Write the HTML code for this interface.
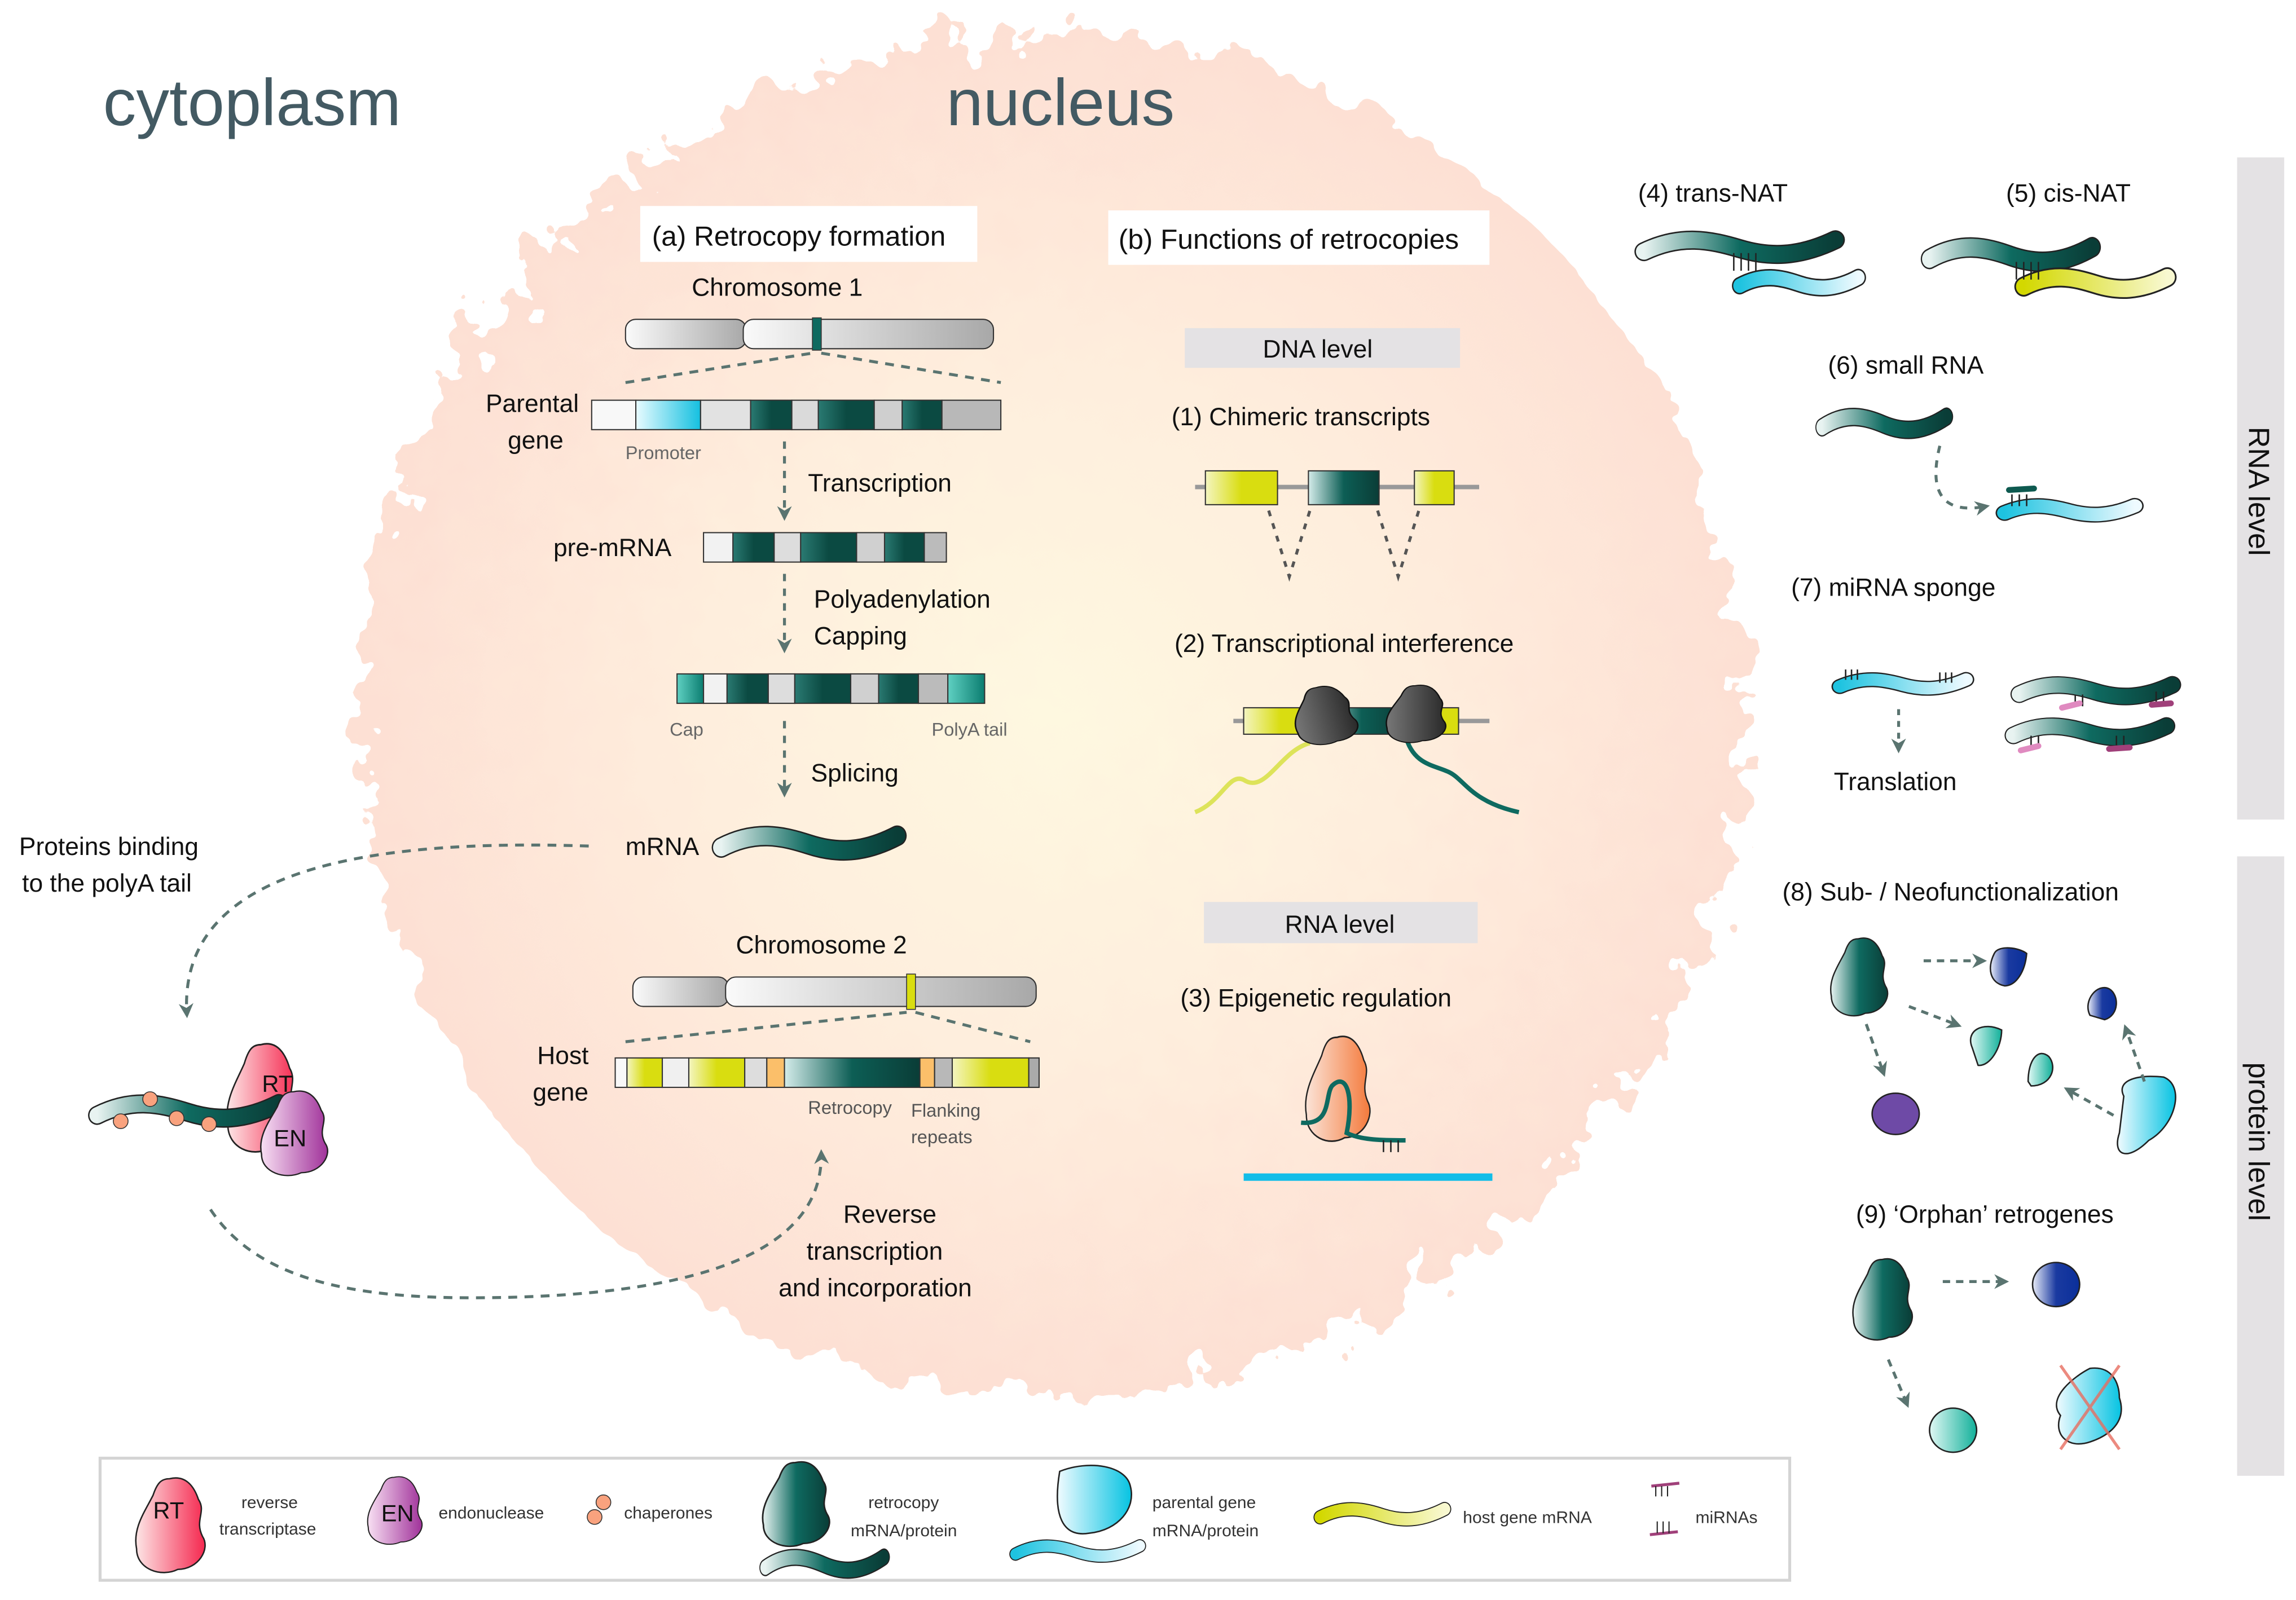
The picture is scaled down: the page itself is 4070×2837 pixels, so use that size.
<!DOCTYPE html>
<html><head><meta charset="utf-8"><style>
html,body{margin:0;padding:0;background:#fff;}
svg{display:block;}
text{font-family:"Liberation Sans Narrow","Liberation Sans",sans-serif;fill:#111;}
</style></head><body>
<svg width="4070" height="2837" viewBox="0 0 1560 1087.4" preserveAspectRatio="none" xmlns="http://www.w3.org/2000/svg">
<defs>
<radialGradient id="nuc" cx="0.5" cy="0.5" r="0.5"><stop offset="0" stop-color="#fef8e0"/><stop offset="0.5" stop-color="#feeedd"/><stop offset="1" stop-color="#fde0d4"/></radialGradient>
<filter id="rough" x="-10%" y="-10%" width="120%" height="120%"><feTurbulence type="fractalNoise" baseFrequency="0.04" numOctaves="3" seed="4"/><feDisplacementMap in="SourceGraphic" scale="60"/></filter>
<linearGradient id="teal" x1="0" x2="1"><stop offset="0" stop-color="#e8f3f1"/><stop offset="0.5" stop-color="#0e6a60"/><stop offset="1" stop-color="#0a3d37"/></linearGradient>
<linearGradient id="cyan" x1="0" x2="1"><stop offset="0" stop-color="#1ec3e0"/><stop offset="1" stop-color="#eefaff"/></linearGradient>
<linearGradient id="cyanP" x1="0" x2="1"><stop offset="0" stop-color="#f0fbff"/><stop offset="1" stop-color="#06c3e2"/></linearGradient>
<linearGradient id="yel" x1="0" x2="1"><stop offset="0" stop-color="#d3d800"/><stop offset="1" stop-color="#f8f8d0"/></linearGradient>
<linearGradient id="yelB" x1="0" x2="1"><stop offset="0" stop-color="#f4f5c0"/><stop offset="0.5" stop-color="#d9dd10"/><stop offset="1" stop-color="#d9dd10"/></linearGradient>
<linearGradient id="gray" x1="0" x2="1"><stop offset="0" stop-color="#fafafa"/><stop offset="1" stop-color="#a8a8a8"/></linearGradient>
<linearGradient id="seg" x1="0" x2="1"><stop offset="0" stop-color="#2a7a72"/><stop offset="0.5" stop-color="#0b4a42"/><stop offset="1" stop-color="#0b4a42"/></linearGradient>
<linearGradient id="segT" x1="0" x2="1"><stop offset="0" stop-color="#d4ecea"/><stop offset="0.5" stop-color="#0d5e55"/><stop offset="1" stop-color="#0a3d37"/></linearGradient>
<linearGradient id="cyanS" x1="0" x2="1"><stop offset="0" stop-color="#e8fbff"/><stop offset="1" stop-color="#14c0e0"/></linearGradient>
<linearGradient id="tcap" x1="0" x2="1"><stop offset="0" stop-color="#5fd0c2"/><stop offset="1" stop-color="#0b7d70"/></linearGradient>
<linearGradient id="red" x1="0" x2="1"><stop offset="0" stop-color="#fde6e6"/><stop offset="1" stop-color="#f5284f"/></linearGradient>
<linearGradient id="pur" x1="0" x2="1"><stop offset="0" stop-color="#f8e0f3"/><stop offset="1" stop-color="#a0329a"/></linearGradient>
<linearGradient id="blue" x1="0" x2="1"><stop offset="0" stop-color="#e8ecf8"/><stop offset="0.5" stop-color="#1a3aa0"/><stop offset="1" stop-color="#0a2f9a"/></linearGradient>
<linearGradient id="green" x1="0" x2="1"><stop offset="0" stop-color="#e0f8f4"/><stop offset="1" stop-color="#12b09a"/></linearGradient>
<linearGradient id="orng" x1="0" x2="1"><stop offset="0" stop-color="#fbe4d8"/><stop offset="1" stop-color="#f47a3c"/></linearGradient>
<linearGradient id="dgray" x1="0" x2="1"><stop offset="0" stop-color="#777"/><stop offset="1" stop-color="#2a2a2a"/></linearGradient>
<marker id="ah" viewBox="0 0 10 10" refX="8" refY="5" markerWidth="5" markerHeight="5" orient="auto"><path d="M0,0 L10,5 L0,10 L3,5 Z" fill="#5a7470"/></marker>
<path id="worm" d="M0,6 C25,-6 45,-2 65,4 S105,10 130,-2"/>
<path id="prot" d="M18,0 C26,-2 30,4 32,10 C36,16 30,20 34,28 C38,34 32,44 22,44 C14,48 2,44 2,34 C0,24 6,16 10,8 C12,2 14,0 18,0 Z"/>
</defs>

<ellipse cx="715" cy="485" rx="470" ry="462" fill="url(#nuc)" filter="url(#rough)"/>

<text x="70" y="85" font-size="45" style="fill:#435a63">cytoplasm</text>
<text x="643" y="85" font-size="45" style="fill:#435a63">nucleus</text>

<rect x="1520" y="107" width="32" height="450" fill="#e4e2e4"/>
<rect x="1520" y="582" width="32" height="421" fill="#e4e2e4"/>
<text transform="translate(1528,290) rotate(90)" font-size="20">RNA level</text>
<text transform="translate(1528,722) rotate(90)" font-size="20">protein level</text>

<rect x="435" y="140" width="229" height="38" fill="#fff"/>
<text x="443" y="167" font-size="19">(a) Retrocopy formation</text>
<text x="470" y="201" font-size="17">Chromosome 1</text>
<rect x="425" y="217" width="82" height="20" rx="7" fill="url(#gray)" stroke="#333" stroke-width="0.8"/>
<rect x="505" y="217" width="170" height="20" rx="7" fill="url(#gray)" stroke="#333" stroke-width="0.8"/>
<rect x="552" y="216" width="6" height="22" fill="#0e6a60" stroke="#333" stroke-width="0.6"/>
<g stroke="#5a7470" stroke-width="2" stroke-dasharray="6 5" fill="none"><path d="M425,260 L552,240"/><path d="M558,240 L680,260"/></g>
<text x="330" y="280" font-size="17">Parental</text><text x="345" y="305" font-size="17">gene</text>
<g stroke="#333" stroke-width="0.8">
<rect x="402" y="272" width="30" height="20" fill="#f8f8f8"/>
<rect x="432" y="272" width="44" height="20" fill="url(#cyanS)"/>
<rect x="476" y="272" width="34" height="20" fill="#e2e2e2"/>
<rect x="510" y="272" width="28" height="20" fill="url(#seg)"/>
<rect x="538" y="272" width="18" height="20" fill="#dadada"/>
<rect x="556" y="272" width="38" height="20" fill="url(#seg)"/>
<rect x="594" y="272" width="19" height="20" fill="#cfcfcf"/>
<rect x="613" y="272" width="27" height="20" fill="url(#seg)"/>
<rect x="640" y="272" width="40" height="20" fill="#b8b8b8"/>
</g>
<text x="425" y="312" font-size="12.5" style="fill:#666">Promoter</text>
<g stroke="#5a7470" stroke-width="2" stroke-dasharray="5 5" fill="none" marker-end="url(#ah)">
<path d="M533,300 L533,352"/><path d="M533,390 L533,442"/><path d="M533,490 L533,540"/>
</g>
<text x="549" y="334" font-size="17">Transcription</text>
<text x="376" y="378" font-size="17">pre-mRNA</text>
<g stroke="#333" stroke-width="0.8">
<rect x="478" y="362" width="20" height="20" fill="#f2f2f2"/>
<rect x="498" y="362" width="28" height="20" fill="url(#seg)"/>
<rect x="526" y="362" width="18" height="20" fill="#ddd"/>
<rect x="544" y="362" width="38" height="20" fill="url(#seg)"/>
<rect x="582" y="362" width="19" height="20" fill="#d0d0d0"/>
<rect x="601" y="362" width="27" height="20" fill="url(#seg)"/>
<rect x="628" y="362" width="15" height="20" fill="#bbb"/>
</g>
<text x="553" y="413" font-size="17">Polyadenylation</text><text x="553" y="438" font-size="17">Capping</text>
<g stroke="#333" stroke-width="0.8">
<rect x="460" y="458" width="18" height="20" fill="url(#tcap)"/>
<rect x="478" y="458" width="16" height="20" fill="#f2f2f2"/>
<rect x="494" y="458" width="28" height="20" fill="url(#seg)"/>
<rect x="522" y="458" width="18" height="20" fill="#ddd"/>
<rect x="540" y="458" width="38" height="20" fill="url(#seg)"/>
<rect x="578" y="458" width="19" height="20" fill="#d0d0d0"/>
<rect x="597" y="458" width="27" height="20" fill="url(#seg)"/>
<rect x="624" y="458" width="20" height="20" fill="#bbb"/>
<rect x="644" y="458" width="25" height="20" fill="url(#tcap)"/>
</g>
<text x="455" y="500" font-size="12.5" style="fill:#666">Cap</text>
<text x="633" y="500" font-size="12.5" style="fill:#666">PolyA tail</text>
<text x="551" y="531" font-size="17">Splicing</text>
<text x="425" y="581" font-size="17">mRNA</text>
<g transform="translate(490,570) scale(0.92,1)"><use href="#worm" stroke="#222" stroke-width="14" fill="none" stroke-linecap="round"/><use href="#worm" stroke="url(#teal)" stroke-width="12" fill="none" stroke-linecap="round"/></g>

<text x="500" y="648" font-size="17">Chromosome 2</text>
<rect x="430" y="664" width="65" height="20" rx="7" fill="url(#gray)" stroke="#333" stroke-width="0.8"/>
<rect x="493" y="664" width="211" height="20" rx="7" fill="url(#gray)" stroke="#333" stroke-width="0.8"/>
<rect x="616" y="662" width="6" height="24" fill="#d9dd10" stroke="#333" stroke-width="0.6"/>
<g stroke="#5a7470" stroke-width="2" stroke-dasharray="6 5" fill="none"><path d="M425,708 L616,688"/><path d="M622,688 L700,708"/></g>
<text x="365" y="723" font-size="17">Host</text><text x="362" y="748" font-size="17">gene</text>
<g stroke="#333" stroke-width="0.8">
<rect x="418" y="719" width="8" height="20" fill="#f8f8f8"/>
<rect x="426" y="719" width="24" height="20" fill="url(#yelB)"/>
<rect x="450" y="719" width="18" height="20" fill="#f0f0f0"/>
<rect x="468" y="719" width="38" height="20" fill="url(#yelB)"/>
<rect x="506" y="719" width="15" height="20" fill="#ddd"/>
<rect x="521" y="719" width="12" height="20" fill="#fbbf6a"/>
<rect x="533" y="719" width="92" height="20" fill="url(#segT)"/>
<rect x="625" y="719" width="10" height="20" fill="#fbbf6a"/>
<rect x="635" y="719" width="12" height="20" fill="#b8b8b8"/>
<rect x="647" y="719" width="52" height="20" fill="url(#yelB)"/>
<rect x="699" y="719" width="7" height="20" fill="#aaa"/>
</g>
<text x="549" y="757" font-size="12.5" style="fill:#555">Retrocopy</text>
<text x="619" y="759" font-size="12.5" style="fill:#555">Flanking</text><text x="619" y="777" font-size="12.5" style="fill:#555">repeats</text>
<text x="573" y="831" font-size="17">Reverse</text><text x="548" y="856" font-size="17">transcription</text><text x="529" y="881" font-size="17">and incorporation</text>

<text x="13" y="581" font-size="17">Proteins binding</text><text x="15" y="606" font-size="17">to the polyA tail</text>
<path d="M400,575 C250,570 120,590 127,690" stroke="#5a7470" stroke-width="2" stroke-dasharray="6 5" fill="none" marker-end="url(#ah)"/>
<path d="M143,822 C175,870 240,882 320,882 C450,882 560,860 558,783" stroke="#5a7470" stroke-width="2" stroke-dasharray="6 5" fill="none" marker-end="url(#ah)"/>
<use href="#prot" transform="translate(152,710) scale(1.4,1.6)" fill="url(#red)" stroke="#222" stroke-width="0.7"/>
<text x="178" y="742" font-size="16">RT</text>
<g transform="translate(66,752)"><use href="#worm" transform="scale(0.95,1)" stroke="#222" stroke-width="13" fill="none" stroke-linecap="round"/><use href="#worm" transform="scale(0.95,1)" stroke="url(#teal)" stroke-width="11" fill="none" stroke-linecap="round"/></g>
<use href="#prot" transform="translate(175,742) scale(1.35,1.25)" fill="url(#pur)" stroke="#222" stroke-width="0.7"/>
<text x="186" y="779" font-size="16">EN</text>
<g fill="#f9a27e" stroke="#333" stroke-width="0.6"><circle cx="82" cy="762" r="5"/><circle cx="102" cy="747" r="5"/><circle cx="120" cy="760" r="5"/><circle cx="142" cy="764" r="5"/></g>

<rect x="753" y="143" width="259" height="37" fill="#fff"/>
<text x="760" y="169" font-size="19">(b) Functions of retrocopies</text>
<rect x="805" y="223" width="187" height="27" fill="#e4e2e4"/>
<text x="858" y="243" font-size="17">DNA level</text>
<text x="796" y="289" font-size="17">(1) Chimeric transcripts</text>
<line x1="812" y1="331" x2="1005" y2="331" stroke="#999" stroke-width="3"/>
<rect x="819" y="320" width="49" height="23" fill="url(#yelB)" stroke="#333" stroke-width="0.8"/>
<rect x="889" y="320" width="48" height="23" fill="url(#segT)" stroke="#333" stroke-width="0.8"/>
<rect x="961" y="320" width="27" height="23" fill="url(#yelB)" stroke="#333" stroke-width="0.8"/>
<g stroke="#555" stroke-width="2" stroke-dasharray="4 5" fill="none"><path d="M862,347 L876,392 L890,347"/><path d="M936,347 L950,392 L964,347"/></g>
<text x="798" y="443" font-size="17">(2) Transcriptional interference</text>
<line x1="838" y1="490" x2="1012" y2="490" stroke="#999" stroke-width="3"/>
<rect x="845" y="481" width="50" height="18" fill="url(#yelB)" stroke="#333" stroke-width="0.8"/>
<rect x="895" y="481" width="60" height="18" fill="url(#segT)" stroke="#333" stroke-width="0.8"/>
<rect x="955" y="481" width="36" height="18" fill="#d9dd10" stroke="#333" stroke-width="0.8"/>
<path d="M890,505 C870,510 860,540 845,530 C835,525 830,545 812,552" stroke="#dde35a" stroke-width="3" fill="none"/>
<path d="M955,500 C960,520 975,520 985,525 C995,530 1000,545 1032,552" stroke="#0e6a60" stroke-width="3" fill="none"/>
<use href="#prot" transform="translate(872,470) scale(1.25,0.85) rotate(-10)" fill="url(#dgray)" stroke="#111" stroke-width="0.8"/>
<use href="#prot" transform="translate(940,466) scale(1.2,0.85)" fill="url(#dgray)" stroke="#111" stroke-width="0.8"/>
<rect x="818" y="613" width="186" height="28" fill="#e4e2e4"/>
<text x="873" y="634" font-size="17">RNA level</text>
<text x="802" y="684" font-size="17">(3) Epigenetic regulation</text>
<use href="#prot" transform="translate(885,705) scale(1.3,1.55)" fill="url(#orng)" stroke="#222" stroke-width="0.7"/>
<path d="M884,763 C905,765 900,745 905,738 C915,728 920,745 915,770 C925,775 940,775 955,775" stroke="#0e6a60" stroke-width="3" fill="none"/>
<g stroke="#222" stroke-width="1"><line x1="940" y1="775" x2="940" y2="783"/><line x1="945" y1="775" x2="945" y2="783"/><line x1="950" y1="775" x2="950" y2="783"/></g>
<line x1="845" y1="800" x2="1014" y2="800" stroke="#12bde8" stroke-width="5"/>

<text x="1113" y="137" font-size="17">(4) trans-NAT</text>
<text x="1363" y="137" font-size="17">(5) cis-NAT</text>
<g fill="none" stroke-linecap="round">
<g transform="translate(1117,165)"><use href="#worm" stroke="#222" stroke-width="13"/><use href="#worm" stroke="url(#teal)" stroke-width="11"/></g>
<g transform="translate(1182,190) scale(0.62,0.7)"><use href="#worm" stroke="#222" stroke-width="17"/><use href="#worm" stroke="url(#cyan)" stroke-width="14"/></g>
<g transform="translate(1311,170) scale(0.85,1)"><use href="#worm" stroke="#222" stroke-width="14"/><use href="#worm" stroke="url(#teal)" stroke-width="12"/></g>
<g transform="translate(1375,190) scale(0.75,0.8)"><use href="#worm" stroke="#222" stroke-width="17"/><use href="#worm" stroke="url(#yel)" stroke-width="14"/></g>
<g transform="translate(1238,285) scale(0.65,0.9)"><use href="#worm" stroke="#222" stroke-width="14"/><use href="#worm" stroke="url(#teal)" stroke-width="12"/></g>
<g transform="translate(1362,345) scale(0.68,0.6)"><use href="#worm" stroke="#222" stroke-width="18"/><use href="#worm" stroke="url(#cyan)" stroke-width="15"/></g>
<g transform="translate(1250,463) scale(0.66,0.6)"><use href="#worm" stroke="#222" stroke-width="17"/><use href="#worm" stroke="url(#cyan)" stroke-width="14"/></g>
<g transform="translate(1372,467) scale(0.8,0.8)"><use href="#worm" stroke="#222" stroke-width="15"/><use href="#worm" stroke="url(#teal)" stroke-width="13"/></g>
<g transform="translate(1368,495) scale(0.8,0.8)"><use href="#worm" stroke="#222" stroke-width="15"/><use href="#worm" stroke="url(#teal)" stroke-width="13"/></g>
</g>
<g stroke="#222" stroke-width="1">
<line x1="1178" y1="172" x2="1178" y2="184"/><line x1="1183" y1="172" x2="1183" y2="184"/><line x1="1188" y1="172" x2="1188" y2="184"/><line x1="1193" y1="172" x2="1193" y2="184"/>
<line x1="1370" y1="178" x2="1370" y2="190"/><line x1="1375" y1="178" x2="1375" y2="190"/><line x1="1380" y1="178" x2="1380" y2="190"/><line x1="1385" y1="178" x2="1385" y2="190"/>
<line x1="1367" y1="336" x2="1367" y2="344"/><line x1="1372" y1="336" x2="1372" y2="344"/><line x1="1377" y1="336" x2="1377" y2="344"/>
<line x1="1254" y1="455" x2="1254" y2="462"/><line x1="1258" y1="455" x2="1258" y2="462"/><line x1="1262" y1="455" x2="1262" y2="462"/>
<line x1="1318" y1="457" x2="1318" y2="464"/><line x1="1322" y1="457" x2="1322" y2="464"/><line x1="1326" y1="457" x2="1326" y2="464"/>
<line x1="1410" y1="472" x2="1410" y2="480"/><line x1="1415" y1="472" x2="1415" y2="480"/><line x1="1465" y1="470" x2="1465" y2="478"/><line x1="1470" y1="470" x2="1470" y2="478"/>
<line x1="1380" y1="500" x2="1380" y2="508"/><line x1="1385" y1="500" x2="1385" y2="508"/><line x1="1438" y1="500" x2="1438" y2="508"/><line x1="1443" y1="500" x2="1443" y2="508"/>
</g>
<g stroke-linecap="round" stroke-width="4"><line x1="1365" y1="333" x2="1382" y2="332" stroke="#0e5a50"/>
<line x1="1401" y1="481" x2="1413" y2="478" stroke="#e08ac0"/><line x1="1462" y1="479" x2="1475" y2="478" stroke="#a0407a"/>
<line x1="1373" y1="510" x2="1385" y2="507" stroke="#e08ac0"/><line x1="1433" y1="509" x2="1447" y2="508" stroke="#a0407a"/></g>
<text x="1242" y="254" font-size="17">(6) small RNA</text>
<path d="M1318,303 C1310,335 1320,350 1350,344" stroke="#5a7470" stroke-width="2" stroke-dasharray="5 5" fill="none" marker-end="url(#ah)"/>
<text x="1217" y="405" font-size="17">(7) miRNA sponge</text>
<path d="M1290,482 L1290,510" stroke="#5a7470" stroke-width="2" stroke-dasharray="4 4" fill="none" marker-end="url(#ah)"/>
<text x="1246" y="537" font-size="17">Translation</text>

<text x="1211" y="612" font-size="17">(8) Sub- / Neofunctionalization</text>
<use href="#prot" transform="translate(1242,638) scale(1.15,1.15)" fill="url(#teal)" stroke="#222" stroke-width="0.8"/>
<path d="M1355,648 C1358,642 1372,644 1377,648 C1376,660 1370,670 1362,670 C1352,668 1350,658 1355,648Z" fill="url(#blue)" stroke="#222"/>
<path d="M1420,690 C1415,680 1425,668 1433,672 C1440,676 1440,690 1430,693 Z" fill="url(#blue)" stroke="#222"/>
<path d="M1340,712 C1335,700 1348,694 1360,700 C1360,712 1352,725 1344,724 Z" fill="url(#green)" stroke="#222"/>
<path d="M1378,735 C1378,720 1385,712 1392,718 C1398,725 1394,738 1380,738 Z" fill="url(#green)" stroke="#222"/>
<ellipse cx="1288" cy="757" rx="16" ry="14" fill="#6e4aa6" stroke="#222"/>
<path d="M1443,745 C1438,735 1450,730 1470,732 C1485,738 1478,765 1460,775 C1445,790 1435,785 1440,770 Z" fill="url(#cyanP)" stroke="#222"/>
<g stroke="#5a7470" stroke-width="2" stroke-dasharray="5 4" fill="none" marker-end="url(#ah)">
<path d="M1307,653 L1348,653"/><path d="M1297,684 L1331,697"/><path d="M1268,696 L1280,730"/><path d="M1436,758 L1404,740"/><path d="M1457,735 L1444,698"/>
<path d="M1320,871 L1363,871"/><path d="M1283,924 L1296,955"/></g>
<text x="1261" y="831" font-size="17">(9) ‘Orphan’ retrogenes</text>
<use href="#prot" transform="translate(1257,856) scale(1.2,1.2)" fill="url(#teal)" stroke="#222" stroke-width="0.8"/>
<ellipse cx="1397" cy="873" rx="16" ry="15" fill="url(#blue)" stroke="#222"/>
<ellipse cx="1327" cy="972" rx="16" ry="15" fill="url(#green)" stroke="#222"/>
<path d="M1400,962 C1390,950 1410,935 1420,930 C1435,928 1440,940 1440,950 C1445,965 1435,975 1420,980 C1405,985 1395,975 1400,962Z" fill="url(#cyanP)" stroke="#222"/>
<g stroke="#e86e60" stroke-width="2" opacity="0.8"><line x1="1400" y1="928" x2="1440" y2="985"/><line x1="1440" y1="928" x2="1400" y2="985"/></g>

<rect x="68" y="991" width="1148" height="83" fill="#fff" stroke="#d4d4d4" stroke-width="2"/>
<use href="#prot" transform="translate(90,1005) scale(1.4,1.4)" fill="url(#red)" stroke="#222" stroke-width="0.7"/>
<text x="104" y="1032" font-size="16">RT</text>
<text x="164" y="1025" font-size="11.5" style="fill:#333">reverse</text><text x="149" y="1043" font-size="11.5" style="fill:#333">transcriptase</text>
<use href="#prot" transform="translate(248,1004) scale(1.1,1.0)" fill="url(#pur)" stroke="#222" stroke-width="0.7"/>
<text x="259" y="1034" font-size="16">EN</text>
<text x="298" y="1032" font-size="11.5" style="fill:#333">endonuclease</text>
<g fill="#f9a27e" stroke="#333" stroke-width="0.6"><circle cx="410" cy="1021" r="5"/><circle cx="404" cy="1031" r="5"/></g>
<text x="424" y="1032" font-size="11.5" style="fill:#333">chaperones</text>
<use href="#prot" transform="translate(516,994) scale(1.35,1.25)" fill="url(#teal)" stroke="#222" stroke-width="0.8"/>
<g transform="translate(520,1060) scale(0.62,0.9)" fill="none" stroke-linecap="round"><use href="#worm" stroke="#222" stroke-width="13"/><use href="#worm" stroke="url(#teal)" stroke-width="11"/></g>
<text x="590" y="1025" font-size="11.5" style="fill:#333">retrocopy</text><text x="578" y="1044" font-size="11.5" style="fill:#333">mRNA/protein</text>
<path d="M720,1000 C740,992 765,996 768,1010 C772,1025 760,1040 740,1042 C722,1045 715,1030 720,1000Z" fill="url(#cyanP)" stroke="#222"/>
<g transform="translate(690,1052) scale(0.65,0.7)" fill="none" stroke-linecap="round"><use href="#worm" stroke="#222" stroke-width="13"/><use href="#worm" stroke="url(#cyan)" stroke-width="11"/></g>
<text x="783" y="1025" font-size="11.5" style="fill:#333">parental gene</text><text x="783" y="1044" font-size="11.5" style="fill:#333">mRNA/protein</text>
<g transform="translate(897,1027) scale(0.65,0.7)" fill="none" stroke-linecap="round"><use href="#worm" stroke="#222" stroke-width="14"/><use href="#worm" stroke="url(#yel)" stroke-width="12"/></g>
<text x="994" y="1035" font-size="11.5" style="fill:#333">host gene mRNA</text>
<g stroke="#a0407a" stroke-width="2"><line x1="1122" y1="1010" x2="1141" y2="1008"/><line x1="1121" y1="1043" x2="1140" y2="1041"/></g>
<g stroke="#222" stroke-width="0.8"><line x1="1125" y1="1010" x2="1125" y2="1017"/><line x1="1129" y1="1010" x2="1129" y2="1017"/><line x1="1133" y1="1010" x2="1133" y2="1017"/><line x1="1126" y1="1034" x2="1126" y2="1042"/><line x1="1130" y1="1034" x2="1130" y2="1042"/><line x1="1134" y1="1034" x2="1134" y2="1042"/></g>
<text x="1152" y="1035" font-size="11.5" style="fill:#333">miRNAs</text>
</svg>
</body></html>
